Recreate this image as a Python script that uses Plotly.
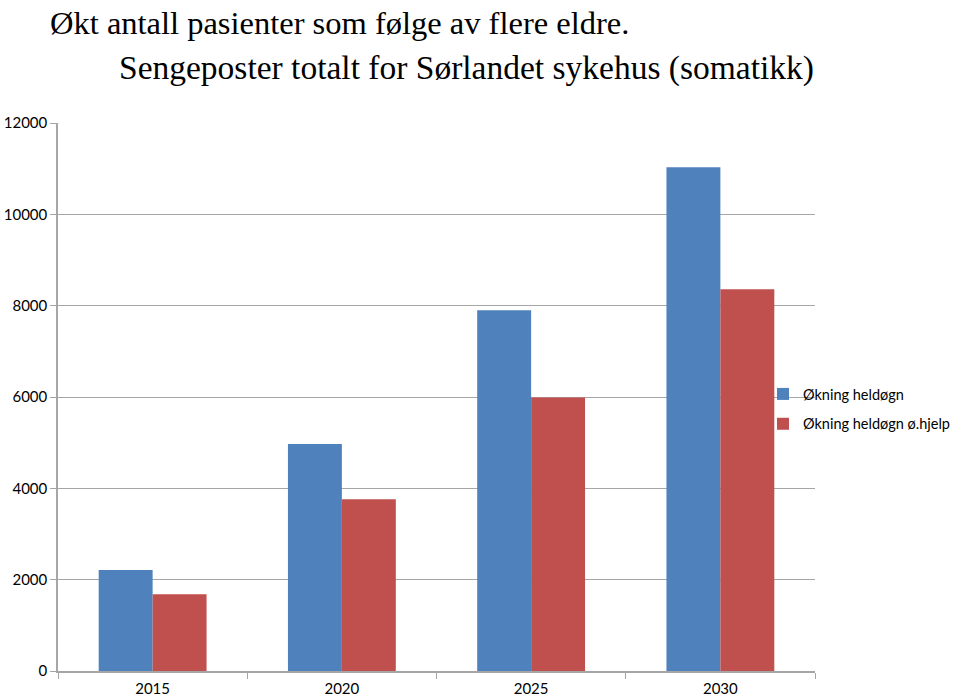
import plotly.graph_objects as go

years = ["2015", "2020", "2025", "2030"]
heldogn = [2210, 4970, 7900, 11030]
heldogn_ohjelp = [1680, 3760, 5990, 8360]
series_names = ["Økning heldøgn", "Økning heldøgn ø.hjelp"]
y_ticks = [0, 2000, 4000, 6000, 8000, 10000, 12000]

fig = go.Figure()
fig.add_trace(go.Bar(x=years, y=heldogn, name=series_names[0], legendgroup="a",
                     marker=dict(color="#4F81BD", line=dict(width=0))))
fig.add_trace(go.Bar(x=years, y=heldogn_ohjelp, name=series_names[1], legendgroup="b",
                     marker=dict(color="#C0504D", line=dict(width=0))))

# plot area targets x 58-815, y 123-671 on screen
fig.update_layout(
    width=960, height=698,
    margin=dict(l=58, r=145, t=123, b=27, autoexpand=False),
    paper_bgcolor="white", plot_bgcolor="white",
    barmode="group", bargap=0.43, bargroupgap=0,
    font=dict(family="Lato, Open Sans, sans-serif", size=15, color="black"),
    showlegend=True,
    legend=dict(x=(763 - 58) / 757, xanchor="left", y=(671 - 409) / 548, yanchor="middle",
                font=dict(size=14.5), bgcolor="rgba(0,0,0,0)", tracegroupgap=8, itemwidth=30),
    xaxis=dict(type="category", showline=True, linecolor="#a6a6a6", linewidth=1.5,
               ticks="outside", tickcolor="#a6a6a6", ticklen=6, tickson="boundaries",
               showgrid=False, tickfont=dict(size=15), ticklabelstandoff=3),
    yaxis=dict(range=[0, 12000], tickvals=y_ticks, tickformat="d", showline=True,
               linecolor="#a6a6a6", linewidth=1.5,
               ticks="outside", tickcolor="#a6a6a6", ticklen=6, showgrid=True, gridcolor="#a6a6a6",
               gridwidth=1.2, zeroline=False, tickfont=dict(size=15)),
    annotations=[
        dict(text="Økt antall pasienter som følge av flere eldre.", xref="paper", yref="paper",
             x=(339 - 58) / 757, y=1 + (123 - 23) / 548, xanchor="center", yanchor="middle", showarrow=False,
             font=dict(family="Liberation Serif, Times New Roman, serif", size=32.5, color="black")),
        dict(text="Sengeposter totalt for Sørlandet sykehus (somatikk)", xref="paper", yref="paper",
             x=(466 - 58) / 757, y=1 + (123 - 68) / 548, xanchor="center", yanchor="middle", showarrow=False,
             font=dict(family="Liberation Serif, Times New Roman, serif", size=33.5, color="black")),
    ],
)

fig.write_html("out.html", config={"displayModeBar": False},
               post_script="document.body.style.margin='0px';")
